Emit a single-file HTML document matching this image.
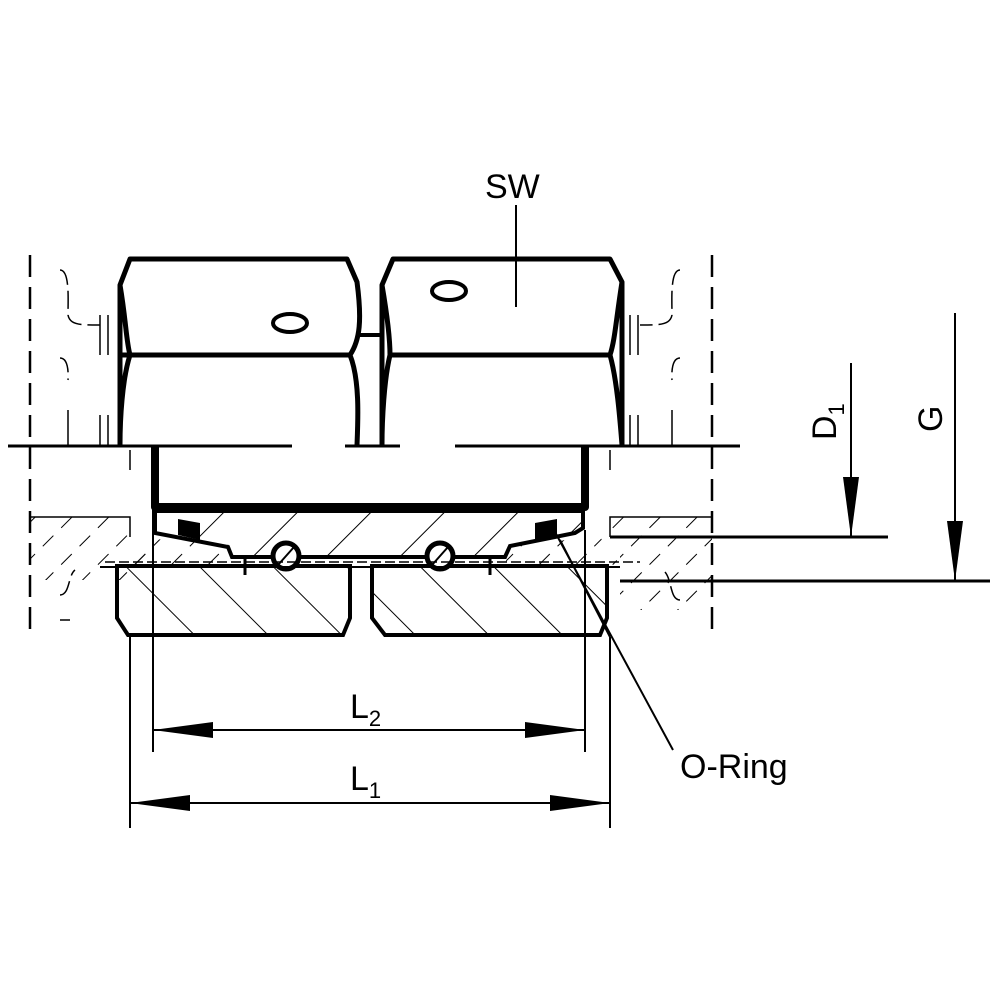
<!DOCTYPE html>
<html><head><meta charset="utf-8"><style>html,body{margin:0;padding:0;background:#fff}svg{display:block}</style></head>
<body>
<svg width="1000" height="1000" viewBox="0 0 1000 1000" xmlns="http://www.w3.org/2000/svg" font-family="Liberation Sans, sans-serif">
<defs>
<pattern id="h1" patternUnits="userSpaceOnUse" width="52" height="52" patternTransform="rotate(45)"><line x1="0" y1="0" x2="0" y2="52" stroke="#000" stroke-width="2"/></pattern>
<pattern id="h2" patternUnits="userSpaceOnUse" width="52" height="52" patternTransform="rotate(-45)"><line x1="0" y1="0" x2="0" y2="52" stroke="#000" stroke-width="2"/></pattern>
<pattern id="h3" patternUnits="userSpaceOnUse" width="26" height="26" patternTransform="rotate(45)"><line x1="0" y1="3" x2="0" y2="18" stroke="#000" stroke-width="2"/></pattern>
<marker id="ar" viewBox="0 0 60 16" refX="60" refY="8" markerWidth="60" markerHeight="16" markerUnits="userSpaceOnUse" orient="auto"><path d="M0,0 L60,8 L0,16Z" fill="#000"/></marker>
</defs>
<g fill="none" stroke="#000" stroke-width="5" stroke-linejoin="round">
<path d="M120,445 L120,285 L130,259 L347,259 L357,282 C362,320 360,340 350,355 C360,380 358,420 357,445"/>
<path d="M120,355 L130,355 L350,355"/>
<path d="M120,285 C126,320 126,340 130,355 C122,380 120,420 120,445"/>
<ellipse cx="290" cy="323" rx="17" ry="9" stroke-width="4"/>
<path d="M382,445 L382,285 L393,259 L610,259 L622,282 L622,445"/>
<path d="M390,355 L610,355"/>
<path d="M382,285 C388,320 390,340 390,355 C384,380 382,420 382,445"/>
<path d="M622,282 C616,320 615,340 610,355 C617,380 620,420 622,445"/>
<ellipse cx="449" cy="291" rx="17" ry="9" stroke-width="4"/>
<path d="M357,335 L382,335" stroke-width="4"/>
<path d="M8,446 L292,446 M345,446 L400,446 M455,446 L740,446" stroke-width="3"/>
<path d="M155,445 L155,507 L585,507 L585,445" stroke-width="8"/>
</g>
<!-- outer dashed hatched -->
<path d="M30,517 L130,517 L130,537 L150,537 L150,580 L30,580Z" fill="url(#h3)"/>
<path d="M610,517 L712,517 L712,610 L620,610 L620,537 L610,537Z" fill="url(#h3)"/>
<path d="M130,537 L230,545 L230,565 L130,565Z" fill="url(#h3)"/>
<path d="M600,537 L510,545 L505,565 L620,565Z" fill="url(#h3)"/>
<!-- hatched body -->
<path d="M155,511 L583,511 L583,528 L575,533 L510,546 L505,557 L232,557 L228,547 L155,533Z" fill="url(#h1)" stroke="#000" stroke-width="4"/>
<path d="M117,566 L350,566 L350,618 L343,635 L128,635 L117,618 Z" fill="url(#h2)" stroke="#000" stroke-width="4"/>
<path d="M372,566 L607,566 L607,618 L600,635 L385,635 L372,618 Z" fill="url(#h2)" stroke="#000" stroke-width="4"/>
<path d="M178,519 L200,523 L200,540 L178,535Z" fill="#000"/>
<path d="M557,519 L535,523 L535,540 L557,535Z" fill="#000"/>
<path d="M238,557 L245,557 L245,575 M498,557 L490,557 L490,575" stroke="#000" stroke-width="3" fill="none"/>
<circle cx="286" cy="556" r="13" fill="#fff" stroke="#000" stroke-width="5"/>
<circle cx="440" cy="556" r="13" fill="#fff" stroke="#000" stroke-width="5"/>
<path d="M278,565 L294,547 M432,565 L448,547" stroke="#000" stroke-width="2"/>
<g fill="none" stroke="#000">
<path d="M100,567 L620,567" stroke-width="2"/>
<path d="M105,562 L640,562" stroke-width="1.5" stroke-dasharray="10 4"/>
<path d="M30,255 L30,635" stroke-width="2.5" stroke-dasharray="22 10"/>
<path d="M712,255 L712,635" stroke-width="2.5" stroke-dasharray="22 10"/>
<path d="M130,450 L130,470 M610,450 L610,470 M30,517 L130,517 L130,537 M610,537 L610,517 L712,517" stroke-width="1.5"/>
<path d="M60,270 C70,270 68,300 68,315 C70,325 80,325 100,325 M60,358 C70,358 68,380 68,380 M60,595 C70,595 68,575 75,570 M60,620 L70,620 M680,270 C670,270 672,300 672,315 C670,325 660,325 640,325 M680,358 C670,358 672,380 672,380 M680,600 C670,600 672,580 665,572" stroke-width="1.5" stroke-dasharray="18 6"/>
<path d="M100,315 L100,355 M108,315 L108,355 M100,415 L100,445 M108,415 L108,445 M68,410 L68,445 M630,315 L630,355 M638,315 L638,355 M630,415 L630,445 M638,415 L638,445 M672,410 L672,445" stroke-width="1.5"/>
<path d="M130,637 L130,828 M153,507 L153,752 M585,530 L585,752 M610,637 L610,828" stroke-width="2"/>
<path d="M610,537 L888,537" stroke-width="3"/>
<path d="M620,581 L990,581" stroke-width="3"/>
<path d="M851,363 L851,537" stroke-width="2" marker-end="url(#ar)"/>
<path d="M955,313 L955,581" stroke-width="2" marker-end="url(#ar)"/>
<path d="M370,730 L153,730" stroke-width="2" marker-end="url(#ar)"/>
<path d="M370,730 L585,730" stroke-width="2" marker-end="url(#ar)"/>
<path d="M370,803 L130,803" stroke-width="2" marker-end="url(#ar)"/>
<path d="M370,803 L610,803" stroke-width="2" marker-end="url(#ar)"/>
<path d="M516,205 L516,307" stroke-width="2"/>
<path d="M673,750 L555,532 M610,637 L560,540" stroke-width="2"/>
</g>
<g fill="#000" font-size="34">
<text x="485" y="198">SW</text>
<text x="350" y="718">L<tspan font-size="22" dy="8">2</tspan></text>
<text x="350" y="790">L<tspan font-size="22" dy="8">1</tspan></text>
<text x="680" y="778">O-Ring</text>
<text transform="translate(836,440) rotate(-90)">D<tspan font-size="22" dy="8">1</tspan></text>
<text transform="translate(942,432) rotate(-90)">G</text>
</g>
</svg>
</body></html>
